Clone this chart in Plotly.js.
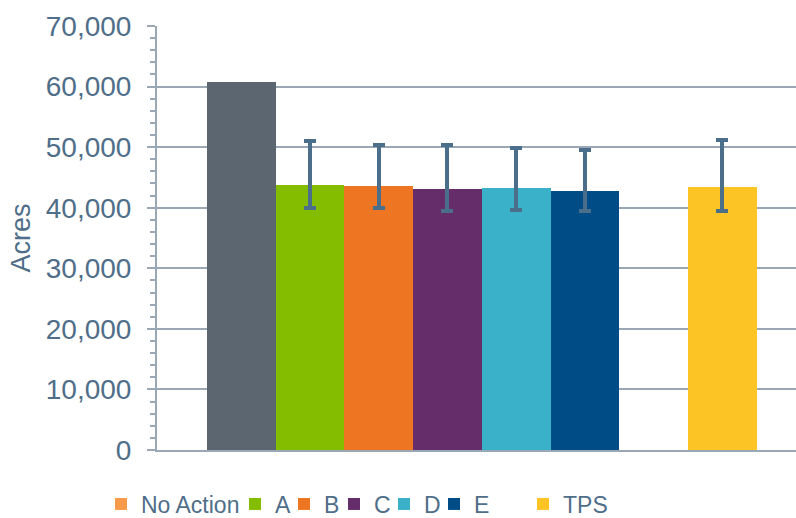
<!DOCTYPE html>
<html><head><meta charset="utf-8">
<script src="https://cdn.plot.ly/plotly-3.0.1.min.js"></script>
<style>html,body{margin:0;padding:0;background:#fff}#chart{width:796px;height:518px}</style>
</head><body><div id="chart"></div>
<script>
// Series (one bar each); ' ' is the blank spacer series between E and TPS
const series = ['No Action', 'A', 'B', 'C', 'D', 'E', ' ', 'TPS'];
const acres = [60800, 43750, 43600, 43100, 43250, 42750, null, 43400];
const rangeHigh = [null, 51050, 50300, 50400, 49800, 49600, null, 51150];
const rangeLow = [null, 40000, 40000, 39450, 39650, 39500, null, 39400];
const barColors = ['#5B6670', '#84BD00', '#EE7623', '#652D6A', '#3AB1C8', '#004C87', 'rgba(0,0,0,0)', '#FDC426'];
const legendColors = ['#F79A4A', '#84BD00', '#EE7623', '#652D6A', '#3AB1C8', '#004C87', null, '#FDC426'];
const yTickVals = [0, 10000, 20000, 30000, 40000, 50000, 60000, 70000];

const textColor = '#4F6E89';
const gridColor = '#9AA7B4';
const errColor = '#4B6E8B';
const font = 'Liberation Sans, Arial, sans-serif';
// left edge (px) of each legend entry's box in the bottom row
const legendBoxX = [101, 235, 284, 334, 384, 434, null, 523];

const traces = [];
const layout = {
  width: 796, height: 518,
  margin: {l: 157, r: 0, t: 26, b: 68, pad: 0},
  paper_bgcolor: '#ffffff', plot_bgcolor: '#ffffff',
  barmode: 'overlay', bargap: 0,
  font: {family: font, color: textColor, size: 23},
  xaxis: {
    type: 'category', categoryorder: 'array', categoryarray: series,
    range: [-1.229, 8.074], showticklabels: false, ticks: '',
    showgrid: false, zeroline: false,
    showline: true, linecolor: gridColor, linewidth: 2, fixedrange: true
  },
  yaxis: {
    range: [0, 70000], tickvals: yTickVals, tickformat: ',d',
    tickfont: {family: font, size: 28, color: textColor},
    ticks: 'outside', ticklen: 8, tickwidth: 2, tickcolor: gridColor,
    minor: {dtick: 2000, ticks: 'outside', ticklen: 5, tickwidth: 2, tickcolor: gridColor, showgrid: false},
    showgrid: true, gridcolor: gridColor, gridwidth: 2,
    zeroline: false, showline: true, linecolor: gridColor, linewidth: 2,
    ticklabelstandoff: 10,
    title: {text: 'Acres', font: {family: font, size: 27, color: textColor}, standoff: 7},
    fixedrange: true
  },
  showlegend: true
};

let legendIdx = 0;
series.forEach((name, i) => {
  const hasErr = rangeHigh[i] !== null && acres[i] !== null;
  const inLegend = legendColors[i] !== null;
  const sameColor = barColors[i] === legendColors[i];
  let legendId = null;
  if (inLegend) {
    legendIdx += 1;
    legendId = legendIdx === 1 ? 'legend' : 'legend' + legendIdx;
    layout[legendId] = {
      orientation: 'h', xref: 'container', yref: 'container',
      x: legendBoxX[i] / 796, xanchor: 'left',
      y: (518 - 504) / 518, yanchor: 'middle',
      font: {family: font, size: 23, color: textColor},
      bgcolor: 'rgba(0,0,0,0)', borderwidth: 0, itemwidth: 30
    };
  }
  traces.push({
    type: 'bar', name: name, x: [name], y: [acres[i]], width: [1],
    marker: {color: barColors[i], line: {width: 0}},
    showlegend: inLegend && sameColor, legend: legendId || 'legend',
    error_y: hasErr ? {type: 'data', symmetric: false,
      array: [rangeHigh[i] - acres[i]], arrayminus: [acres[i] - rangeLow[i]],
      color: errColor, thickness: 4, width: 6} : {visible: false},
    hoverinfo: 'name+y'
  });
  if (inLegend && !sameColor) {
    // legend-only swatch (legend colour differs from the bar colour in the original)
    traces.push({
      type: 'bar', name: name, x: [name], y: [0], width: [1],
      marker: {color: legendColors[i], line: {width: 0}},
      showlegend: true, legend: legendId, hoverinfo: 'skip'
    });
  }
});

Plotly.newPlot('chart', traces, layout, {displayModeBar: false, staticPlot: true});
</script></body></html>
